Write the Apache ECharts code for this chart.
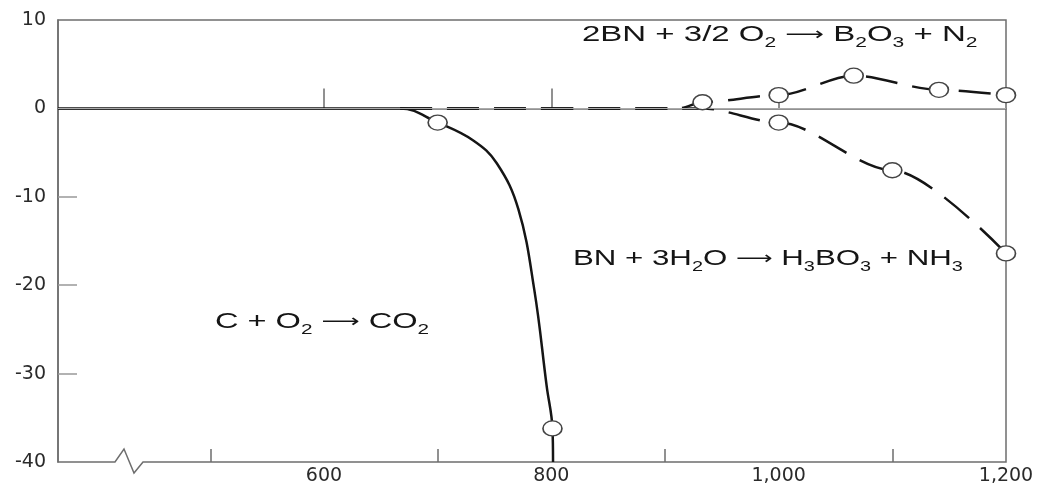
<!DOCTYPE html>
<html>
<head>
<meta charset="utf-8">
<script src="https://cdn.jsdelivr.net/npm/echarts@6/dist/echarts.min.js"></script>
<style>
  html, body { margin: 0; padding: 0; background: #fff; }
  #main { width: 1040px; height: 486px; }
</style>
</head>
<body>
<div id="main"></div>
<script>
// C + O2 -> CO2 (solid curve)
var carbonLine = [[366, 0], [667, 0], [700, -1.6], [731, -3.6], [752, -6.2],
  [771, -11.4], [785, -20.5], [796, -31.5], [801, -36.2], [801.5, -40]];
var carbonPts = [[700, -1.6], [801, -36.2]];

// 2BN + 3/2 O2 -> B2O3 + N2 (dashed, upper)
var oxLine = [[667, 0], [912, 0], [933, 0.7], [1000, 1.5], [1066, 3.7], [1141, 2.1], [1200, 1.5]];
var oxPts = [[933, 0.7], [1000, 1.5], [1066, 3.7], [1141, 2.1], [1200, 1.5]];

// BN + 3H2O -> H3BO3 + NH3 (dashed, lower)
var hydLine = [[667, 0], [933, 0], [1000, -1.6], [1100, -7.0], [1200, -16.4]];
var hydPts = [[1000, -1.6], [1100, -7.0], [1200, -16.4]];

// ticks / labels
var xMajorTicks = [600, 800, 1000];
var xMinorTicks = [500, 700, 900, 1100];
var xLabels = [600, 800, 1000, 1200];
var yTicks = [-30, -20, -10];

var ink = '#151515';
var axisGray = '#6e6e6e';

var myChart = echarts.init(document.getElementById('main'));

var rich = {
  n: { fontFamily: 'Liberation Sans', fontSize: 22, lineHeight: 30, color: ink },
  s: { fontFamily: 'Liberation Sans', fontSize: 14, lineHeight: 30, verticalAlign: 'bottom', color: ink },
  a: { fontFamily: 'DejaVu Sans', fontSize: 18, lineHeight: 30, color: ink }
};

function formula(x, y, sx, text) {
  return { type: 'text', x: x, y: y, scaleX: sx, z: 100,
    style: { text: text, rich: rich, fill: ink } };
}

myChart.setOption({
  animation: false,
  grid: { left: 58, right: 34, top: 20, bottom: 24, show: true, borderColor: axisGray, borderWidth: 1.5 },
  xAxis: [{
    type: 'value', min: 366, max: 1200,
    splitLine: { show: false },
    axisLine: { show: true, lineStyle: { color: axisGray, width: 1.5 } },
    axisTick: { show: true, inside: true, length: 20, customValues: xMajorTicks, lineStyle: { color: axisGray, width: 1.5 } },
    axisLabel: {
      customValues: xLabels, margin: 5, fontFamily: 'DejaVu Sans', fontSize: 19, color: '#2a2a2a',
      formatter: function (v) { return v >= 1000 ? Math.floor(v / 1000) + ',' + String(v % 1000).padStart(3, '0') : String(v); }
    }
  }, {
    type: 'value', min: 366, max: 1200, position: 'bottom',
    splitLine: { show: false },
    axisLine: { show: false },
    axisTick: { show: true, inside: true, length: 13, customValues: xMinorTicks, lineStyle: { color: axisGray, width: 1.5 } },
    axisLabel: { show: false }
  }],
  yAxis: {
    type: 'value', min: -40, max: 10, interval: 10,
    splitLine: { show: false },
    axisLine: { show: true, lineStyle: { color: axisGray, width: 1.5 } },
    axisTick: { show: true, inside: true, length: 19, customValues: yTicks, lineStyle: { color: '#999', width: 1.5 } },
    axisLabel: { margin: 12, fontFamily: 'DejaVu Sans', fontSize: 19, color: '#2a2a2a' }
  },
  series: [
    {
      name: 'zero', type: 'line', data: [], silent: true,
      markLine: {
        silent: true, symbol: 'none', label: { show: false },
        lineStyle: { color: '#aaa', width: 1, type: 'solid' },
        data: [{ yAxis: 0 }]
      }
    },
    {
      name: 'C + O2', type: 'line', data: carbonLine, showSymbol: false, smooth: 0.4,
      lineStyle: { color: ink, width: 2.5 }, z: 3
    },
    {
      name: '2BN + 3/2 O2', type: 'line', data: oxLine, showSymbol: false, smooth: 0.3, smoothMonotone: 'x',
      lineStyle: { color: ink, width: 2.5, type: [32, 15] }, z: 3
    },
    {
      name: 'BN + 3H2O', type: 'line', data: hydLine, showSymbol: false, smooth: 0.3, smoothMonotone: 'x',
      lineStyle: { color: ink, width: 2.5, type: [32, 15] }, z: 3
    },
    {
      type: 'scatter', data: carbonPts.concat(oxPts, hydPts), symbol: 'circle', symbolSize: [19, 15], z: 5,
      itemStyle: { color: '#fff', borderColor: '#444', borderWidth: 1.5, opacity: 1 }
    }
  ],
  graphic: [
    // axis break on the x axis
    { type: 'rect', shape: { x: 112, y: 459, width: 34, height: 6 }, style: { fill: '#fff' }, z: 90 },
    { type: 'polyline', z: 91, shape: { points: [[112, 462], [115, 462], [124, 449], [134, 473], [143, 462], [146, 462]] },
      style: { stroke: axisGray, lineWidth: 1.5, fill: null } },
    formula(582, 20, 1.5, '{n|2BN + 3/2 O}{s|2}{n| }{a|⟶}{n| B}{s|2}{n|O}{s|3}{n| + N}{s|2}'),
    formula(573, 244, 1.42, '{n|BN + 3H}{s|2}{n|O }{a|⟶}{n| H}{s|3}{n|BO}{s|3}{n| + NH}{s|3}'),
    formula(215, 307, 1.48, '{n|C + O}{s|2}{n| }{a|⟶}{n| CO}{s|2}')
  ]
});
</script>
</body>
</html>
